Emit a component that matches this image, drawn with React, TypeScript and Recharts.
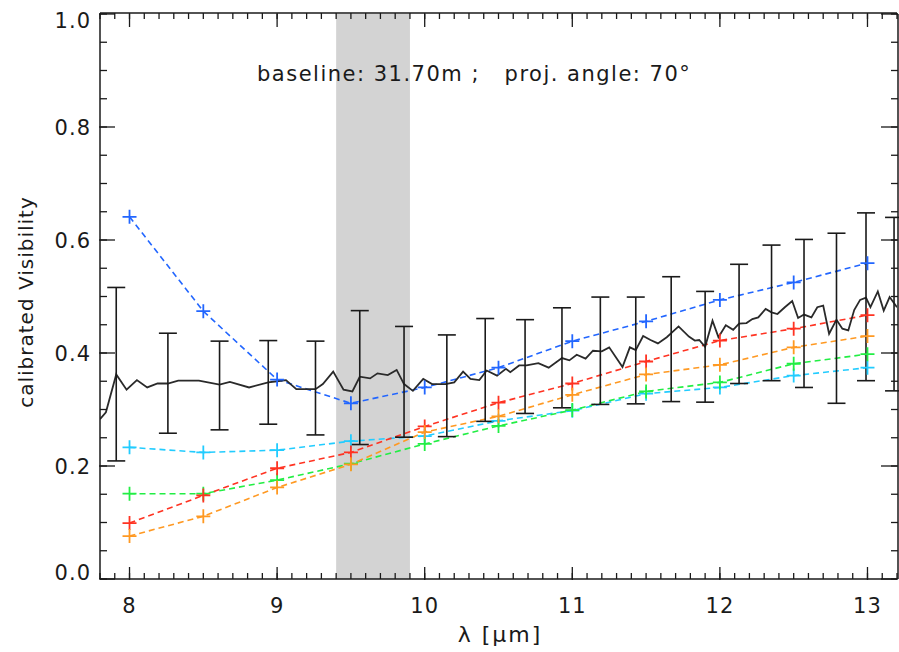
import { ComposedChart, Line, Scatter, ErrorBar, XAxis, YAxis, ReferenceArea } from 'recharts'

// wavelengths of the calibrated model/points (um)
const pointLambda = [8, 8.5, 9, 9.5, 10, 10.5, 11, 11.5, 12, 12.5, 13]
const visBlue = [0.641, 0.474, 0.353, 0.311, 0.339, 0.374, 0.421, 0.456, 0.494, 0.525, 0.559]
const visCyan = [0.233, 0.224, 0.228, 0.244, 0.253, 0.28, 0.298, 0.328, 0.339, 0.36, 0.374]
const visGreen = [0.151, 0.151, 0.175, 0.204, 0.239, 0.271, 0.299, 0.332, 0.348, 0.381, 0.398]
const visRed = [0.099, 0.148, 0.196, 0.224, 0.27, 0.312, 0.346, 0.385, 0.422, 0.443, 0.467]
const visOrange = [0.076, 0.111, 0.162, 0.203, 0.26, 0.288, 0.326, 0.362, 0.379, 0.41, 0.43]

// measured visibility spectrum
const measLambda = [
    7.8, 7.84, 7.91, 7.98, 8.05, 8.12, 8.19, 8.26, 8.33, 8.47, 8.61, 8.68, 8.81, 8.94, 9.0, 9.06, 9.13, 9.26, 9.31,
    9.38, 9.45, 9.51, 9.56, 9.63, 9.68, 9.75, 9.81, 9.86, 9.92, 9.99, 10.05, 10.14, 10.2, 10.26, 10.31, 10.37, 10.42,
    10.49, 10.55, 10.58, 10.64, 10.69, 10.77, 10.84, 10.93, 10.98, 11.03, 11.09, 11.14, 11.2, 11.25, 11.34, 11.39,
    11.43, 11.48, 11.53, 11.58, 11.64, 11.72, 11.79, 11.83, 11.86, 11.9, 11.95, 11.99, 12.04, 12.09, 12.13, 12.18,
    12.22, 12.26, 12.31, 12.35, 12.39, 12.44, 12.49, 12.53, 12.57, 12.62, 12.66, 12.7, 12.74, 12.79, 12.83, 12.87,
    12.91, 12.95, 12.99, 13.02, 13.07, 13.11, 13.15, 13.2,
]
const measVis = [
    0.283, 0.295, 0.362, 0.335, 0.352, 0.339, 0.346, 0.346, 0.351, 0.351, 0.344, 0.349, 0.339, 0.348, 0.35, 0.352,
    0.336, 0.336, 0.345, 0.367, 0.335, 0.332, 0.358, 0.355, 0.364, 0.361, 0.37, 0.345, 0.333, 0.354, 0.345, 0.345,
    0.348, 0.367, 0.354, 0.352, 0.369, 0.36, 0.372, 0.366, 0.378, 0.378, 0.382, 0.374, 0.391, 0.387, 0.397, 0.39,
    0.404, 0.403, 0.41, 0.375, 0.41, 0.405, 0.43, 0.423, 0.417, 0.428, 0.447, 0.429, 0.422, 0.423, 0.411, 0.457,
    0.428, 0.449, 0.441, 0.452, 0.453, 0.46, 0.463, 0.478, 0.472, 0.469, 0.481, 0.492, 0.462, 0.468, 0.463, 0.481,
    0.484, 0.434, 0.459, 0.443, 0.44, 0.476, 0.494, 0.498, 0.481, 0.509, 0.475, 0.499, 0.481,
]

// error bar ranges
const errLambda = [
    7.91, 8.26, 8.61, 8.94, 9.26, 9.56, 9.86, 10.15, 10.41, 10.68, 10.93, 11.19, 11.43, 11.67, 11.9, 12.13, 12.35,
    12.57, 12.79, 12.99, 13.18,
]
const errLow = [
    0.209, 0.258, 0.264, 0.274, 0.255, 0.238, 0.251, 0.252, 0.279, 0.293, 0.303, 0.309, 0.31, 0.314, 0.313, 0.346,
    0.351, 0.339, 0.311, 0.351, 0.333,
]
const errHigh = [
    0.516, 0.435, 0.421, 0.422, 0.421, 0.475, 0.447, 0.432, 0.461, 0.459, 0.48, 0.499, 0.499, 0.535, 0.509, 0.557,
    0.591, 0.601, 0.612, 0.648, 0.64,
]

const xMajorTicks = [8, 9, 10, 11, 12, 13]
const xMinorTicks = Array.from({ length: 55 }, (_, i) => (78 + i) / 10)
const yMajorTicks = [0, 0.2, 0.4, 0.6, 0.8, 1]
const yMinorTicks = Array.from({ length: 21 }, (_, i) => i / 20)

const FONT = '"DejaVu Sans", sans-serif'
const INK = '#1a1a1a'
const X_DOMAIN: [number, number] = [7.8, 13.2]
const Y_DOMAIN: [number, number] = [0, 1]

const models = [
    { name: 'blue', color: '#2266ff', values: visBlue },
    { name: 'cyan', color: '#22ccff', values: visCyan },
    { name: 'green', color: '#22ee44', values: visGreen },
    { name: 'red', color: '#ff3322', values: visRed },
    { name: 'orange', color: '#ff9922', values: visOrange },
]

const measData = measLambda.map((x, i) => ({ x, y: measVis[i] }))
const errData = errLambda.map((x, i) => ({ x, y: (errLow[i] + errHigh[i]) / 2, e: (errHigh[i] - errLow[i]) / 2 }))

const tickStroke = { stroke: INK, strokeWidth: 1.3 }
const frameLine = { stroke: INK, strokeWidth: 1.5 }

function NoLabel() {
    return <g />
}

function BottomLabel(props: any) {
    const { x, y, payload } = props
    return (
        <text x={x} y={y + 46} textAnchor="middle" fontSize={21} fontFamily={FONT} fill={INK} letterSpacing={1}>
            {payload.value}
        </text>
    )
}

function LeftLabel(props: any) {
    const { x, y, payload } = props
    const v = payload.value
    const shift = v >= 0.999 ? 6 : v <= 0.001 ? -7 : 0
    return (
        <text x={x - 24} y={y + 8 + shift} textAnchor="end" fontSize={21} fontFamily={FONT} fill={INK} letterSpacing={1}>
            {v.toFixed(1)}
        </text>
    )
}

function plusDot(color: string, name: string) {
    return (p: any) => (
        <path
            key={`${name}-${p.index}`}
            d={`M${p.cx - 7},${p.cy}H${p.cx + 7}M${p.cx},${p.cy - 7}V${p.cy + 7}`}
            stroke={color}
            strokeWidth={1.8}
            fill="none"
        />
    )
}

// minor-tick axes are declared first (and use id 0 at bottom/left) so they sit on the frame
function xAxisProps(id: string | number, orientation: 'top' | 'bottom', ticks: number[], size: number, height: number) {
    return {
        xAxisId: id,
        dataKey: 'x',
        type: 'number' as const,
        orientation,
        domain: X_DOMAIN,
        allowDataOverflow: true,
        ticks,
        interval: 0,
        height,
        tickSize: -size,
        tickMargin: 0,
        tickLine: tickStroke,
    }
}

function yAxisProps(id: string | number, orientation: 'left' | 'right', ticks: number[], size: number, width: number) {
    return {
        yAxisId: id,
        type: 'number' as const,
        orientation,
        domain: Y_DOMAIN,
        allowDataOverflow: true,
        ticks,
        interval: 0,
        width,
        tickSize: -size,
        tickMargin: 0,
        tickLine: tickStroke,
    }
}

export default function App() {
    return (
        <div style={{ position: 'absolute', left: 0, top: 0, width: 899, height: 652, background: '#fff' }}>
            <ComposedChart width={899} height={652} margin={{ top: 12, right: 0, bottom: 0, left: 0 }}>
                <XAxis {...xAxisProps(0, 'bottom', xMinorTicks, 6, 1)} axisLine={frameLine} tick={<NoLabel />} />
                <XAxis
                    {...xAxisProps('xmajor', 'bottom', xMajorTicks, 13, 72)}
                    axisLine={false}
                    tick={<BottomLabel />}
                    label={{
                        content: () => (
                            <text x={500} y={642} textAnchor="middle" fontSize={22} fontFamily={FONT} fill={INK} letterSpacing={2}>
                                λ [μm]
                            </text>
                        ),
                    }}
                />
                <XAxis {...xAxisProps('tminor', 'top', xMinorTicks, 6, 1)} axisLine={frameLine} tick={<NoLabel />} />
                <XAxis {...xAxisProps('tmajor', 'top', xMajorTicks, 13, 1)} axisLine={false} tick={<NoLabel />} />
                <YAxis {...yAxisProps(0, 'left', yMinorTicks, 7, 1)} axisLine={frameLine} tick={<NoLabel />} />
                <YAxis
                    {...yAxisProps('ymajor', 'left', yMajorTicks, 16, 99)}
                    axisLine={false}
                    tick={<LeftLabel />}
                    label={{
                        content: () => (
                            <text
                                x={33}
                                y={302}
                                transform="rotate(-90 33 302)"
                                textAnchor="middle"
                                fontSize={20}
                                fontFamily={FONT}
                                fill={INK}
                                letterSpacing={1}
                            >
                                calibrated Visibility
                            </text>
                        ),
                    }}
                />
                <YAxis {...yAxisProps('rminor', 'right', yMinorTicks, 7, 1)} axisLine={frameLine} tick={<NoLabel />} />
                <YAxis {...yAxisProps('rmajor', 'right', yMajorTicks, 16, 1)} axisLine={false} tick={<NoLabel />} />
                <ReferenceArea x1={9.4} x2={9.9} y1={0} y2={1} fill="#d3d3d3" fillOpacity={1} stroke="none" />
                {models.map((m) => (
                    <Line
                        key={m.name}
                        data={pointLambda.map((x, i) => ({ x, y: m.values[i] }))}
                        dataKey="y"
                        type="linear"
                        stroke={m.color}
                        strokeWidth={1.6}
                        strokeDasharray="6 4"
                        dot={plusDot(m.color, m.name)}
                        activeDot={false}
                        isAnimationActive={false}
                    />
                ))}
                <Line
                    data={measData}
                    dataKey="y"
                    type="linear"
                    stroke="#2a2a2a"
                    strokeWidth={1.8}
                    dot={false}
                    activeDot={false}
                    isAnimationActive={false}
                />
                <Scatter data={errData} dataKey="y" shape={() => <g />} isAnimationActive={false}>
                    <ErrorBar dataKey="e" direction="y" width={9} stroke={INK} strokeWidth={1.6} isAnimationActive={false} />
                </Scatter>
            </ComposedChart>
            <div
                style={{
                    position: 'absolute',
                    left: 257,
                    top: 60,
                    fontFamily: FONT,
                    fontSize: 21,
                    letterSpacing: 1.5,
                    color: INK,
                    whiteSpace: 'pre',
                    lineHeight: '28px',
                }}
            >
                {'baseline: 31.70m ;   proj. angle: 70°'}
            </div>
        </div>
    )
}
